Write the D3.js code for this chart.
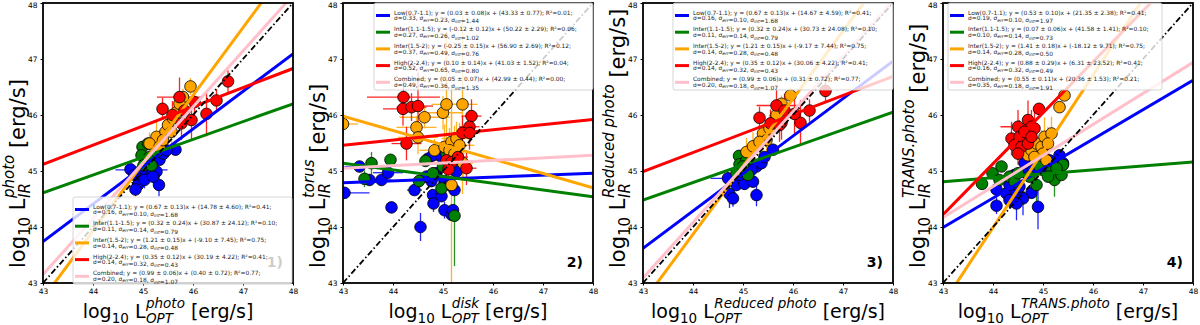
<!DOCTYPE html>
<html>
<head>
<meta charset="utf-8">
<script src="https://cdn.jsdelivr.net/npm/d3@7"></script>
<style>
  body { margin: 0; background: #fff; }
  svg { display: block; font-family: "DejaVu Sans", sans-serif; }
</style>
</head>
<body>
<div id="chart"></div>
<script>
// each point: [x, y, xerr, yerr]
const p1Low = [[44.75,45.03,0.05,0.1],[44.9,44.75,0.05,0.15],[44.85,44.67,0.05,0.12],[45.07,44.92,0.05,0.1],[45.27,44.99,0.05,0.12],[45.32,44.75,0.05,0.2],[45.65,45.38,0.05,0.1],[44.83,44.93,0.05,0.1],[44.97,45.02,0.52,0.1],[45.17,45.14,0.05,0.1],[45.25,45.25,0.05,0.1],[45.33,45.2,0.05,0.1],[45.41,45.31,0.05,0.1],[45.03,44.84,0.05,0.15],[45.2,44.9,0.05,0.12],[45.47,45.37,0.05,0.1]];
const p1Inter1 = [[44.99,45.43,0.05,0.1],[44.97,45.28,0.05,0.1],[45.13,45.25,0.05,0.15],[45.01,45.1,0.05,0.1],[45.17,45.1,0.05,0.25],[45.1,45.49,0.05,0.1],[45.27,45.34,0.05,0.1]];
const p1Inter2 = [[45.95,46.51,0.05,0.15],[45.8,46.32,0.05,0.15],[45.27,45.61,0.05,0.28],[45.13,45.49,0.05,0.2],[45.45,45.7,0.05,0.25],[45.5,45.82,0.05,0.3],[45.6,45.94,0.05,0.2],[45.67,46.05,0.05,0.2],[45.33,45.43,0.05,0.3],[45.4,45.55,0.05,0.3],[45.57,45.7,0.05,0.25],[45.73,46.2,0.05,0.2]];
const p1High = [[46.7,46.6,0.05,0.2],[45.73,46.32,0.45,0.35],[45.39,46.11,0.05,0.2],[45.59,46.0,0.05,0.25],[46.03,46.23,0.05,0.3],[46.27,46.02,0.05,0.4],[46.47,46.26,0.05,0.2],[45.77,45.85,0.05,0.3],[45.97,45.91,0.05,0.35],[45.83,46.08,0.05,0.3]];

const p2Low = [[43.03,44.61,0.5,0.1],[43.33,45.08,0.3,0.1],[43.53,44.84,0.2,0.1],[43.77,44.84,0.2,0.1],[43.9,44.97,0.3,0.1],[43.97,44.35,0.1,0.1],[44.43,44.66,0.15,0.1],[44.55,44.0,0.05,0.25],[44.77,44.82,0.1,0.1],[44.8,44.57,0.1,0.1],[44.81,44.42,0.1,0.15],[44.97,44.55,0.1,0.1],[45.03,44.3,0.1,0.15],[45.17,44.22,0.1,0.1],[45.2,44.3,0.1,0.1],[45.23,44.66,0.1,0.1],[45.27,44.99,0.1,0.1],[44.7,45.22,0.1,0.1],[44.8,45.28,0.1,0.1],[44.97,45.25,0.1,0.1],[45.07,45.08,0.1,0.1],[44.87,44.96,0.1,0.1],[44.67,44.9,0.1,0.1],[45.03,44.82,0.1,0.1],[45.13,44.75,0.1,0.1]];
const p2Inter1 = [[43.43,44.86,0.05,0.15],[43.57,45.14,0.05,0.2],[43.95,45.2,0.05,0.1],[44.52,44.82,0.05,0.1],[44.65,45.18,0.05,0.1],[44.8,44.96,0.05,0.1],[44.97,44.69,0.05,0.15],[45.23,44.2,0.05,0.9],[45.07,45.31,0.05,0.1],[45.2,45.19,0.05,0.1],[45.0,45.08,0.05,0.1]];
const p2Inter2 = [[43.0,45.84,0.3,0.2],[44.47,45.78,0.4,0.2],[44.5,45.6,0.4,0.3],[44.63,45.96,0.5,0.2],[44.83,45.37,0.3,0.2],[45.0,46.04,0.4,0.3],[45.07,46.19,0.3,1.3],[45.39,46.19,0.3,1.6],[45.03,45.43,0.2,0.4],[45.17,45.52,0.2,0.5],[45.27,45.58,0.3,0.3],[45.33,45.46,0.3,0.4],[45.13,45.37,0.2,0.4],[45.4,45.14,0.2,0.3],[45.17,44.75,0.1,1.8],[45.23,45.31,0.2,0.5]];
const p2High = [[44.21,46.32,0.73,0.3],[44.2,46.11,0.4,0.3],[44.37,46.14,0.3,0.25],[44.5,46.16,0.3,0.6],[44.27,45.49,0.3,0.3],[45.57,45.98,0.2,0.3],[45.53,45.79,0.2,0.3],[45.39,45.68,0.2,0.3],[45.53,45.68,0.2,0.3],[45.47,45.05,0.2,0.3],[45.07,45.19,0.2,0.3],[45.17,45.16,0.2,0.3],[45.3,45.25,0.2,0.3],[45.11,45.03,0.2,0.3]];

const p3Low = [[44.7,44.87,0.35,0.1],[44.73,44.59,0.05,0.25],[44.8,44.51,0.05,0.15],[44.87,44.75,0.05,0.1],[45.0,44.84,0.05,0.1],[45.03,44.77,0.05,0.1],[45.2,44.81,0.05,0.1],[45.27,44.57,0.05,0.2],[45.6,45.38,0.05,0.1],[45.1,44.96,0.05,0.1],[45.27,45.08,0.05,0.1],[45.37,45.14,0.05,0.1],[45.17,45.02,0.05,0.1],[45.43,45.25,0.05,0.1],[44.93,44.93,0.05,0.1]];
const p3Inter1 = [[44.92,45.27,0.05,0.1],[44.93,45.12,0.05,0.1],[44.87,44.96,0.05,0.1],[45.1,44.93,0.05,0.15],[45.07,45.19,0.05,0.1],[45.0,45.08,0.05,0.1]];
const p3Inter2 = [[45.95,46.35,0.05,0.15],[45.77,46.2,0.05,0.15],[45.07,45.34,0.05,0.25],[45.2,45.44,0.05,0.25],[45.4,45.67,0.05,0.3],[45.47,45.55,0.05,0.3],[45.53,45.76,0.05,0.25],[45.33,45.52,0.05,0.3],[45.6,45.85,0.05,0.2],[45.67,46.0,0.05,0.2]];
const p3High = [[46.65,46.43,0.05,0.2],[45.67,46.17,0.4,0.3],[45.33,45.95,0.05,0.2],[45.55,45.85,0.05,0.25],[45.83,46.08,0.05,0.3],[46.15,45.86,0.05,0.4],[46.33,46.08,0.05,0.2],[45.77,45.86,0.05,0.3],[46.03,46.02,0.05,0.35],[45.73,45.82,0.05,0.3]];

const p4Low = [[44.07,44.67,0.2,0.1],[44.07,44.38,0.05,0.15],[44.27,44.6,0.05,0.1],[44.47,44.6,0.05,0.1],[44.33,44.75,0.05,0.1],[44.53,44.72,0.05,0.1],[44.43,44.93,0.05,0.1],[44.67,44.96,0.05,0.1],[44.77,44.61,0.05,0.1],[44.9,44.36,0.05,0.4],[44.6,44.51,0.05,0.3],[44.8,45.05,0.05,0.1],[45.0,45.02,0.05,0.1],[45.33,45.28,0.05,0.1],[45.4,45.14,0.05,0.1],[44.63,45.14,0.05,0.1],[45.07,45.08,0.05,0.1],[44.33,44.48,0.05,0.15],[44.47,44.42,0.05,0.3],[45.13,45.19,0.05,0.1]];
const p4Inter1 = [[43.78,44.77,0.05,0.1],[43.99,44.96,0.05,0.1],[44.13,44.84,0.05,0.1],[44.17,45.08,0.05,0.1],[44.33,44.9,0.05,0.1],[44.43,44.81,0.05,0.1],[44.87,44.75,0.05,0.3],[44.93,45.08,0.05,0.1],[45.17,44.99,0.05,0.1],[45.23,44.84,0.05,0.3],[45.37,44.93,0.05,0.1],[45.4,45.11,0.05,0.1],[45.1,44.9,0.05,0.1],[45.27,45.05,0.05,0.1],[44.73,44.9,0.05,0.1],[44.5,44.96,0.05,0.1]];
const p4Inter2 = [[45.43,46.35,0.05,0.1],[45.33,46.14,0.05,0.1],[44.7,45.28,0.05,0.25],[44.77,45.37,0.05,0.3],[44.87,45.49,0.05,0.35],[44.97,45.43,0.05,0.3],[45.03,45.61,0.05,0.35],[45.17,45.67,0.05,0.3],[45.0,45.31,0.05,0.2],[44.83,45.25,0.05,0.2],[45.07,45.19,0.05,0.2],[45.1,45.49,0.05,0.3]];
const p4High = [[44.92,46.11,0.05,0.1],[44.5,45.79,0.35,0.3],[44.37,45.58,0.05,0.3],[44.53,45.61,0.05,0.3],[44.7,45.91,0.05,0.35],[44.77,45.79,0.05,0.3],[44.63,45.7,0.05,0.3],[44.83,45.76,0.05,0.3],[44.43,45.46,0.05,0.2],[44.57,45.43,0.05,0.2],[44.7,45.49,0.05,0.2],[44.5,45.31,0.05,0.2],[44.77,45.61,0.05,0.3]];

// fitted lines: y at x=43 and x=48  (low, inter1, inter2, high, combined)
const p1Fits = [[43.74,47.09],[44.61,46.20],[42.72,48.77],[45.12,46.83],[43.15,48.14]];
const p2Fits = [[44.79,44.96],[45.14,44.54],[45.98,44.70],[45.46,45.92],[45.05,45.28]];
const p3Fits = [[43.62,46.96],[44.48,46.05],[42.66,48.71],[44.99,46.69],[43.09,48.04]];
const p4Fits = [[43.99,46.62],[44.81,45.16],[42.63,49.43],[44.22,48.77],[44.17,46.94]];

const p1Legend = [
  "Low(0.7-1.1); y = (0.67 ± 0.13)x + (14.78 ± 4.60); R²=0.41;", "σ=0.16, σ_err=0.10, σ_int=1.68",
  "Inter(1.1-1.5); y = (0.32 ± 0.24)x + (30.87 ± 24.12); R²=0.10;", "σ=0.11, σ_err=0.14, σ_int=0.79",
  "Inter(1.5-2); y = (1.21 ± 0.15)x + (-9.10 ± 7.45); R²=0.75;", "σ=0.14, σ_err=0.28, σ_int=0.48",
  "High(2-2.4); y = (0.35 ± 0.12)x + (30.19 ± 4.22); R²=0.41;", "σ=0.14, σ_err=0.32, σ_int=0.43",
  "Combined; y = (0.99 ± 0.06)x + (0.40 ± 0.72); R²=0.77;", "σ=0.20, σ_err=0.18, σ_int=1.07"];
const p2Legend = [
  "Low(0.7-1.1); y = (0.03 ± 0.08)x + (43.33 ± 0.77); R²=0.01;", "σ=0.33, σ_err=0.23, σ_int=1.44",
  "Inter(1.1-1.5); y = (-0.12 ± 0.12)x + (50.22 ± 2.29); R²=0.06;", "σ=0.27, σ_err=0.26, σ_int=1.02",
  "Inter(1.5-2); y = (-0.25 ± 0.15)x + (56.90 ± 2.69); R²=0.12;", "σ=0.37, σ_err=0.49, σ_int=0.76",
  "High(2-2.4); y = (0.10 ± 0.14)x + (41.03 ± 1.52); R²=0.04;", "σ=0.52, σ_err=0.65, σ_int=0.80",
  "Combined; y = (0.05 ± 0.07)x + (42.99 ± 0.44); R²=0.00;", "σ=0.49, σ_err=0.36, σ_int=1.35"];
const p3Legend = [
  "Low(0.7-1.1); y = (0.67 ± 0.13)x + (14.67 ± 4.59); R²=0.41;", "σ=0.16, σ_err=0.10, σ_int=1.68",
  "Inter(1.1-1.5); y = (0.32 ± 0.24)x + (30.73 ± 24.08); R²=0.10;", "σ=0.11, σ_err=0.14, σ_int=0.79",
  "Inter(1.5-2); y = (1.21 ± 0.15)x + (-9.17 ± 7.44); R²=0.75;", "σ=0.14, σ_err=0.28, σ_int=0.48",
  "High(2-2.4); y = (0.35 ± 0.12)x + (30.06 ± 4.22); R²=0.41;", "σ=0.14, σ_err=0.32, σ_int=0.43",
  "Combined; y = (0.99 ± 0.06)x + (0.31 ± 0.72); R²=0.77;", "σ=0.20, σ_err=0.18, σ_int=1.07"];
const p4Legend = [
  "Low(0.7-1.1); y = (0.53 ± 0.10)x + (21.35 ± 2.38); R²=0.41;", "σ=0.19, σ_err=0.10, σ_int=1.97",
  "Inter(1.1-1.5); y = (0.07 ± 0.06)x + (41.58 ± 1.41); R²=0.10;", "σ=0.10, σ_err=0.14, σ_int=0.73",
  "Inter(1.5-2); y = (1.41 ± 0.18)x + (-18.12 ± 9.71); R²=0.75;", "σ=0.14, σ_err=0.28, σ_int=0.50",
  "High(2-2.4); y = (0.88 ± 0.29)x + (6.31 ± 23.52); R²=0.41;", "σ=0.16, σ_err=0.32, σ_int=0.49",
  "Combined; y = (0.55 ± 0.11)x + (20.36 ± 1.53); R²=0.21;", "σ=0.35, σ_err=0.18, σ_int=1.91"];

const ticks = [43, 44, 45, 46, 47, 48];
const colors = ["#0000ff", "#008000", "#ffa500", "#ff0000", "#ffc0cb"];

const panels = [
  { left: 43, groups: [p1Low, p1Inter1, p1Inter2, p1High], fits: p1Fits, legend: p1Legend, legX: 30, legY: 194, legW: 219,
    xSup: "photo", ySup: "photo", tag: "1)" },
  { left: 343, groups: [p2Low, p2Inter1, p2Inter2, p2High], fits: p2Fits, legend: p2Legend, legX: 31, legY: 0, legW: 219,
    xSup: "disk", ySup: "torus", tag: "2)" },
  { left: 643, groups: [p3Low, p3Inter1, p3Inter2, p3High], fits: p3Fits, legend: p3Legend, legX: 30, legY: 0, legW: 220,
    xSup: "Reduced photo", ySup: "Reduced photo", tag: "3)" },
  { left: 943, groups: [p4Low, p4Inter1, p4Inter2, p4High], fits: p4Fits, legend: p4Legend, legX: 5, legY: 0, legW: 214,
    xSup: "TRANS.photo", ySup: "TRANS.photo", tag: "4)" }
];

const W = 250, H = 280, TOP = 3;

const svg = d3.select("#chart").append("svg").attr("width", 1200).attr("height", 325);
svg.append("rect").attr("width", 1200).attr("height", 325).attr("fill", "#fff");

const x = d3.scaleLinear().domain([43, 48]).range([0, W]);
const y = d3.scaleLinear().domain([43, 48]).range([H, 0]);

// log10 L^{sup}_{sub} [erg/s] built from pieces
function axisLabel(g, sup, sub, big, small) {
  let cx = 0;
  const t1 = g.append("text").attr("x", cx).attr("font-size", big).text("log");
  cx += t1.node().getComputedTextLength();
  const t2 = g.append("text").attr("x", cx).attr("y", big * 0.27).attr("font-size", small).text("10");
  cx += t2.node().getComputedTextLength();
  const t3 = g.append("text").attr("x", cx).attr("font-size", big).text("\u00a0L");
  cx += t3.node().getComputedTextLength() + 0.5;
  const ts = g.append("text").attr("x", cx).attr("y", -big * 0.52).attr("font-size", small).attr("font-style", "italic").text(sup);
  const tb = g.append("text").attr("x", cx).attr("y", big * 0.27).attr("font-size", small).attr("font-style", "italic").text(sub);
  cx += Math.max(ts.node().getComputedTextLength(), tb.node().getComputedTextLength());
  const t4 = g.append("text").attr("x", cx).attr("font-size", big).text("\u00a0[erg/s]");
  cx += t4.node().getComputedTextLength();
  return cx;
}

function legendLine(sel, s) {
  const parts = s.split(/_(err|int)/);
  parts.forEach((p, i) => {
    if (i % 2 === 1) {
      sel.append("tspan").attr("font-size", 4.4).attr("font-style", "italic").attr("dy", 1.3).text(p);
      sel.append("tspan").attr("dy", -1.3).text("");
    } else {
      sel.append("tspan").text(p);
    }
  });
}

panels.forEach((p, pi) => {
  const g = svg.append("g").attr("transform", `translate(${p.left},${TOP})`);

  g.append("clipPath").attr("id", "clip" + pi)
    .append("rect").attr("width", W).attr("height", H);

  const plot = g.append("g").attr("clip-path", `url(#clip${pi})`);

  p.groups.forEach((data, gi) => {
    const eb = plot.append("g").attr("stroke", colors[gi]).attr("stroke-width", 1.3).attr("opacity", 0.85);
    eb.selectAll(".ex").data(data).enter().append("line")
      .attr("x1", d => x(d[0] - d[2])).attr("x2", d => x(d[0] + d[2]))
      .attr("y1", d => y(d[1])).attr("y2", d => y(d[1]));
    eb.selectAll(".ey").data(data).enter().append("line")
      .attr("x1", d => x(d[0])).attr("x2", d => x(d[0]))
      .attr("y1", d => y(d[1] - d[3])).attr("y2", d => y(d[1] + d[3]));
  });
  p.groups.forEach((data, gi) => {
    plot.append("g").selectAll("circle").data(data).enter().append("circle")
      .attr("cx", d => x(d[0])).attr("cy", d => y(d[1])).attr("r", 5.8)
      .attr("fill", colors[gi]).attr("stroke", "#000").attr("stroke-width", 0.8);
  });

  p.fits.forEach((f, fi) => {
    plot.append("line")
      .attr("x1", x(43)).attr("y1", y(f[0]))
      .attr("x2", x(48)).attr("y2", y(f[1]))
      .attr("stroke", colors[fi]).attr("stroke-width", 3);
  });

  plot.append("line")
    .attr("x1", x(43)).attr("y1", y(43)).attr("x2", x(48)).attr("y2", y(48))
    .attr("stroke", "#000").attr("stroke-width", 1.8)
    .attr("stroke-dasharray", "6,2.5,1.5,2.5");

  // axes
  const xAxis = g.append("g").attr("transform", `translate(0,${H})`)
    .call(d3.axisBottom(x).tickValues(ticks).tickSize(2.5).tickPadding(3).tickFormat(d3.format("d")));
  const yAxis = g.append("g")
    .call(d3.axisLeft(y).tickValues(ticks).tickSize(2.5).tickPadding(3).tickFormat(d3.format("d")));
  [xAxis, yAxis].forEach(a => {
    a.select(".domain").remove();
    a.selectAll("text").attr("font-size", 7.5).attr("font-family", "DejaVu Sans").attr("fill", "#000");
  });
  yAxis.selectAll(".tick text").filter(d => d === 48).attr("dy", "0.55em");

  g.append("rect").attr("width", W).attr("height", H)
    .attr("fill", "none").attr("stroke", "#000").attr("stroke-width", 1.8);

  g.append("text").attr("x", 240).attr("y", 264).attr("text-anchor", "end")
    .attr("font-size", 14).attr("font-weight", "bold").attr("fill", "#000").text(p.tag);

  // legend
  const lg = g.append("g").attr("transform", `translate(${p.legX},${p.legY})`);
  lg.append("rect").attr("width", p.legW).attr("height", 87).attr("rx", 2)
    .attr("fill", "#fff").attr("fill-opacity", 0.8).attr("stroke", "#cccccc").attr("stroke-width", 0.8);
  for (let i = 0; i < 5; i++) {
    const yy = 9.5 + i * 16.7;
    lg.append("line").attr("x1", 2).attr("x2", 16).attr("y1", yy + 3).attr("y2", yy + 3)
      .attr("stroke", colors[i]).attr("stroke-width", 3);
    lg.append("text").attr("x", 20).attr("y", yy + 2).attr("font-size", 5.9).attr("fill", "#222")
      .text(p.legend[2 * i]);
    legendLine(lg.append("text").attr("x", 20).attr("y", yy + 7.7).attr("font-size", 5.9).attr("fill", "#222"),
      p.legend[2 * i + 1]);
  }

  // x label
  const xl = g.append("g");
  const xw = axisLabel(xl, p.xSup, "OPT", 19, 13.5);
  xl.attr("transform", `translate(${W / 2 - xw / 2},${318 - TOP})`);

  // y label, starts near the bottom of the frame and runs upward
  const yl = g.append("g");
  axisLabel(yl, p.ySup, "IR", 21, 15);
  yl.attr("transform", `translate(${24.5 - 43},${268 - TOP}) rotate(-90)`);
});
</script>
</body>
</html>
